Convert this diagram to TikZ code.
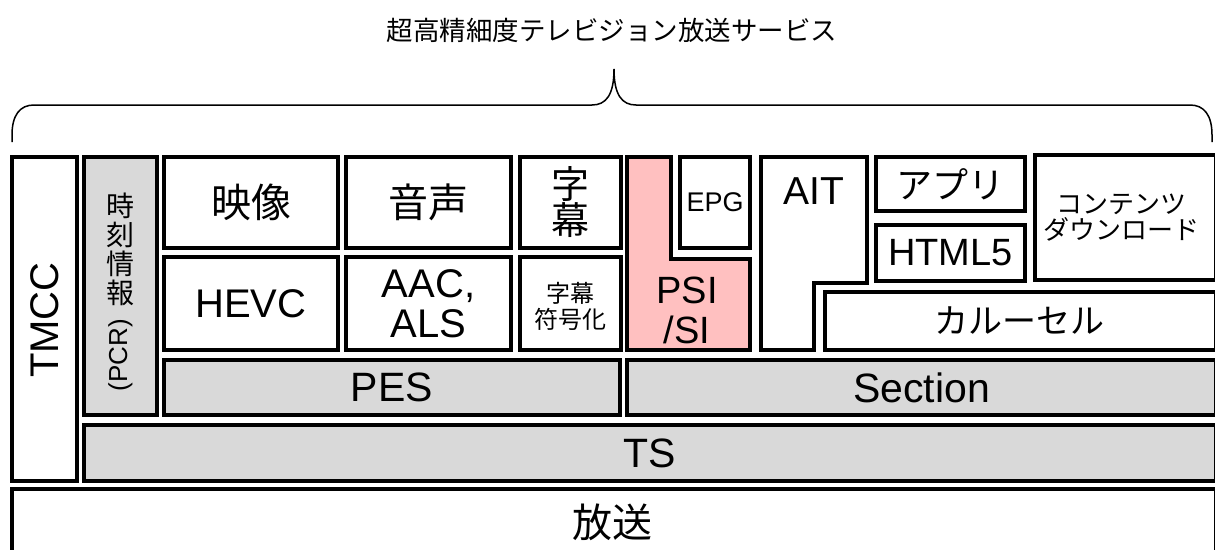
\documentclass[tikz,border=0pt]{standalone}
\usepackage{fontspec}
\setmainfont{Liberation Sans}
\newfontfamily\jp{Noto Sans CJK JP}
\newcommand\fsz[1]{\fontsize{#1}{#1}\selectfont}
\definecolor{boxgray}{RGB}{217,217,217}
\definecolor{boxpink}{RGB}{255,192,192}
\tikzset{
  blk/.style={draw=black, line width=4pt, fill=white, inner sep=0pt, outer sep=0pt, anchor=north west},
  gblk/.style={blk, fill=boxgray},
  lbl/.style={inner sep=0pt, align=center},
  brace/.style={draw=black, line width=1.5pt},
}
\begin{document}
\begin{tikzpicture}[x=1pt,y=-1pt]
\useasboundingbox (0,0) rectangle (1215,549);
\clip (0,0) rectangle (1215,549);
% title and brace
\node[lbl, font=\jp\fsz{26.5}] (title) at (612,30) {超高精細度テレビジョン放送サービス};
\coordinate (bl) at (12,142);
\coordinate (br) at (1212,142);
\coordinate (tip) at (614,69);
\draw[brace] (bl) -- (12,135) .. controls (12,115) and (20,105) .. (34,105) -- (592,105)
  .. controls (606,105) and (614,95) .. (tip)
  .. controls (614,95) and (622,105) .. (636,105) -- (1190,105)
  .. controls (1204,105) and (1212,115) .. (1212,135) -- (br);
% left columns
\node[blk, minimum width=65pt, minimum height=324pt] (tmcc) at (12,157) {};
\node[lbl, rotate=90, font=\fsz{40}] (tmcct) at (44.5,320) {TMCC};
\node[gblk, minimum width=73pt, minimum height=258pt] (pcr) at (84,157) {};
\node[lbl, font=\jp\fsz{28}] (pcr1) at (120.5,206) {時};
\node[lbl, font=\jp\fsz{28}] (pcr2) at (120.5,235) {刻};
\node[lbl, font=\jp\fsz{28}] (pcr3) at (120.5,264) {情};
\node[lbl, font=\jp\fsz{28}] (pcr4) at (120.5,293) {報};
\node[lbl, rotate=90, font=\fsz{26}] (pcr5) at (120.5,355) {(PCR)};
% video / audio / caption
\node[blk, minimum width=174pt, minimum height=91pt] (eizo) at (164,157) {};
\node[lbl, font=\jp\fsz{40}] at (eizo.center) {映像};
\node[blk, minimum width=174pt, minimum height=93pt] (hevc) at (164,257) {};
\node[lbl, font=\fsz{40}] at (hevc.center) {HEVC};
\node[blk, minimum width=165pt, minimum height=91pt] (onsei) at (346,157) {};
\node[lbl, font=\jp\fsz{40}] at (onsei.center) {音声};
\node[blk, minimum width=165pt, minimum height=93pt] (aac) at (346,257) {};
\node[lbl, font=\fsz{40}] at (aac.center) {AAC,\\ALS};
\node[blk, minimum width=101pt, minimum height=91pt] (jimaku) at (520,157) {};
\node[lbl, font=\jp\fsz{38}] at (jimaku.center) {字\\[-2pt]幕};
\node[blk, minimum width=101pt, minimum height=93pt] (jfugo) at (520,257) {};
\node[lbl, font=\jp\fsz{24}] at ([yshift=-3pt]jfugo.center) {字幕\\[2pt]符号化};
\node[gblk, minimum width=456pt, minimum height=55pt] (pes) at (164,360) {};
\node[lbl, font=\fsz{41}] at (pes.center) {PES};
% PSI/SI L shape
\draw[line width=4pt, fill=boxpink, line join=miter] (627,157) -- (670.5,157) -- (670.5,259) -- (750,259) -- (750,350) -- (627,350) -- cycle;
\node[lbl, font=\fsz{38}] (psi) at (687,310) {PSI\\[2pt]/SI};
\node[blk, minimum width=70pt, minimum height=91pt] (epg) at (680,157) {};
\node[lbl, font=\fsz{27}] at (epg.center) {EPG};
% AIT L shape
\draw[line width=4pt, fill=white, line join=miter] (761,157) -- (867,157) -- (867,283) -- (814,283) -- (814,350) -- (761,350) -- cycle;
\node[lbl, font=\fsz{39}] (ait) at (814,191) {AIT};
\node[blk, minimum width=149pt, minimum height=54pt] (appli) at (876,157) {};
\node[lbl, font=\jp\fsz{36}] at (appli.center) {アプリ};
\node[blk, minimum width=149pt, minimum height=56pt] (html) at (876,225) {};
\node[lbl, font=\fsz{38}] at (html.center) {HTML5};
\node[blk, minimum width=181pt, minimum height=125pt] (dl) at (1035,155) {};
\node[lbl, font=\jp\fsz{26}] at ([xshift=-4pt]dl.center) {コンテンツ\\[0pt]ダウンロード};
\node[blk, minimum width=391pt, minimum height=58pt] (carousel) at (825,292) {};
\node[lbl, font=\jp\fsz{34}] at ([xshift=-1pt]carousel.center) {カルーセル};
\node[gblk, minimum width=589pt, minimum height=55pt] (section) at (627,360) {};
\node[lbl, font=\fsz{41}] at (section.center) {Section};
% TS and broadcast
\node[gblk, minimum width=1132pt, minimum height=56pt] (ts) at (84,425) {};
\node[lbl, font=\fsz{41}] at (ts.center) {TS};
\node[blk, minimum width=1204pt, minimum height=80pt] (hoso) at (12,489) {};
\node[lbl, font=\jp\fsz{40}] at (612,522) {放送};
\end{tikzpicture}
\end{document}
